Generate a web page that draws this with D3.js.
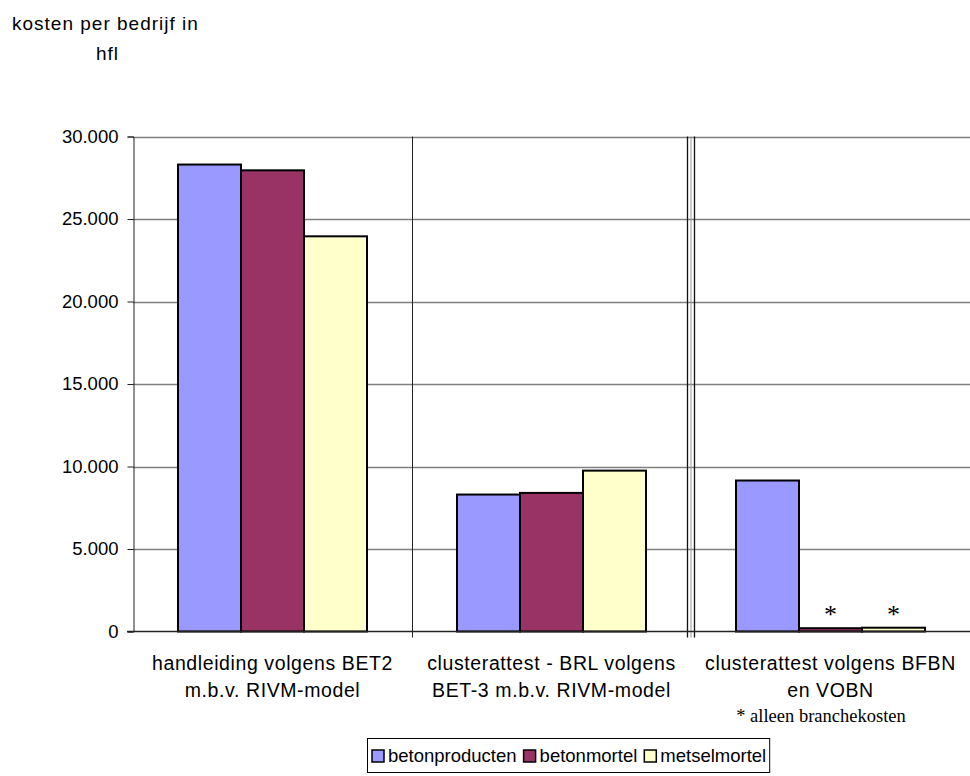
<!DOCTYPE html>
<html>
<head>
<meta charset="utf-8">
<script src="https://cdn.jsdelivr.net/npm/d3@7"></script>
<style>
  html, body { margin: 0; padding: 0; background: #fff; }
  svg { display: block; font-family: "Liberation Sans", Arial, sans-serif; }
</style>
</head>
<body>
<svg id="chart" width="970" height="776"></svg>
<script>
// Cost per company (hfl) for three certification routes
const categories = [
  ["handleiding volgens BET2", "m.b.v. RIVM-model"],
  ["clusterattest - BRL volgens", "BET-3 m.b.v. RIVM-model"],
  ["clusterattest volgens BFBN", "en VOBN"]
];
const seriesNames = ["betonproducten", "betonmortel", "metselmortel"];
const seriesColors = ["#9999FF", "#993366", "#FFFFCC"];
const betonproducten = [28300, 8300, 9150];
const betonmortel = [27950, 8400, 200];
const metselmortel = [23950, 9750, 230];
const yTicks = [0, 5000, 10000, 15000, 20000, 25000, 30000];
const branchOnly = [false, true, true]; // series marked with * in the last group
const footnote = "* alleen branchekosten";

const seriesValues = [betonproducten, betonmortel, metselmortel];

const svg = d3.select("#chart");
const plotLeft = 133, plotRight = 970, plotTop = 136.5, plotBottom = 631.5;

const x = d3.scaleBand().domain(d3.range(categories.length)).range([plotLeft, plotRight]).padding(0);
const groupW = 189;
const xs = d3.scaleBand().domain(d3.range(seriesNames.length)).range([0, groupW]).padding(0);
const y = d3.scaleLinear().domain([0, 30000]).range([plotBottom, plotTop]);
const fmt = v => d3.format(",")(v).replace(/,/g, ".");

// horizontal gridlines
svg.append("g").selectAll("line").data(yTicks.filter(t => t > 0)).join("line")
  .attr("x1", plotLeft).attr("x2", plotRight)
  .attr("y1", d => Math.round(y(d)) + 0.5).attr("y2", d => Math.round(y(d)) + 0.5)
  .attr("stroke", "#808080").attr("stroke-width", 1.5);

// y axis
const yAxis = d3.axisLeft(y).tickValues(yTicks).tickFormat(fmt).tickSize(6).tickPadding(9);
const gy = svg.append("g").attr("transform", `translate(${plotLeft + 0.5},0)`).call(yAxis);
gy.select(".domain").attr("stroke", "#222").attr("stroke-width", 1);
gy.selectAll(".tick line").attr("stroke", "#222").attr("stroke-width", 1);
gy.selectAll(".tick text").attr("font-size", 18.5).attr("fill", "#000")
  .attr("font-family", "Liberation Sans, Arial, sans-serif");

// category separators
svg.append("line").attr("x1", x(1) + 0.5).attr("x2", x(1) + 0.5)
  .attr("y1", plotTop).attr("y2", plotBottom + 6).attr("stroke", "#222").attr("stroke-width", 1);
[-3.5, 0, 3.5].forEach((off, i) => {
  svg.append("line").attr("x1", x(2) + off).attr("x2", x(2) + off)
    .attr("y1", plotTop).attr("y2", plotBottom + 6)
    .attr("stroke", i === 1 ? "#999" : "#111").attr("stroke-width", i === 1 ? 1 : 1.3);
});

// bars
const groups = svg.append("g").selectAll("g").data(categories).join("g")
  .attr("transform", (d, i) => `translate(${x(i) + (x.bandwidth() - groupW) / 2},0)`);
groups.selectAll("rect").data((d, i) => seriesValues.map((s, j) => ({ v: s[i], j })))
  .join("rect")
  .attr("x", d => xs(d.j))
  .attr("width", xs.bandwidth())
  .attr("y", d => y(d.v))
  .attr("height", d => plotBottom - y(d.v))
  .attr("fill", d => seriesColors[d.j])
  .attr("stroke", "#000").attr("stroke-width", 2);

// baseline
svg.append("line").attr("x1", plotLeft - 6).attr("x2", plotRight)
  .attr("y1", plotBottom).attr("y2", plotBottom).attr("stroke", "#222").attr("stroke-width", 1.5);

// asterisks over branch-only bars
const lastG = categories.length - 1;
seriesValues.forEach((s, j) => {
  if (!branchOnly[j]) return;
  svg.append("text")
    .attr("x", x(lastG) + (x.bandwidth() - groupW) / 2 + xs(j) + xs.bandwidth() / 2)
    .attr("y", y(s[lastG]) - 5)
    .attr("text-anchor", "middle")
    .attr("font-family", "Liberation Serif, Times New Roman, serif")
    .attr("font-size", 26).text("*");
});

// category labels
categories.forEach((lines, i) => {
  const t = svg.append("text").attr("text-anchor", "middle").attr("font-size", 19.5)
    .attr("letter-spacing", 0.6)
    .attr("x", x(i) + x.bandwidth() / 2);
  lines.forEach((l, k) => t.append("tspan").attr("x", x(i) + x.bandwidth() / 2)
    .attr("y", 670 + k * 27).text(l));
});
svg.append("text").attr("x", 821).attr("y", 722)
  .attr("text-anchor", "middle").attr("font-family", "Liberation Serif, Times New Roman, serif")
  .attr("font-size", 18.5).text(footnote);

// y-axis title
svg.append("text").attr("x", 12).attr("y", 30).attr("font-size", 19)
  .attr("letter-spacing", 1).text("kosten per bedrijf in");
svg.append("text").attr("x", 96).attr("y", 60).attr("font-size", 19)
  .attr("letter-spacing", 1).text("hfl");

// legend
const legend = svg.append("g");
const lx = 367, ly = 738;
const box = legend.append("rect").attr("x", lx + 0.5).attr("y", ly + 0.5).attr("height", 34)
  .attr("fill", "#fff").attr("stroke", "#000").attr("stroke-width", 1);
let cx = lx + 5;
seriesNames.forEach((name, j) => {
  legend.append("rect").attr("x", cx).attr("y", ly + 12).attr("width", 12).attr("height", 12)
    .attr("fill", seriesColors[j]).attr("stroke", "#000").attr("stroke-width", 1.5);
  const t = legend.append("text").attr("x", cx + 16).attr("y", ly + 24).attr("font-size", 18.5).text(name);
  cx += 16 + t.node().getComputedTextLength() + 7;
});
box.attr("width", cx - lx - 4);
</script>
</body>
</html>
